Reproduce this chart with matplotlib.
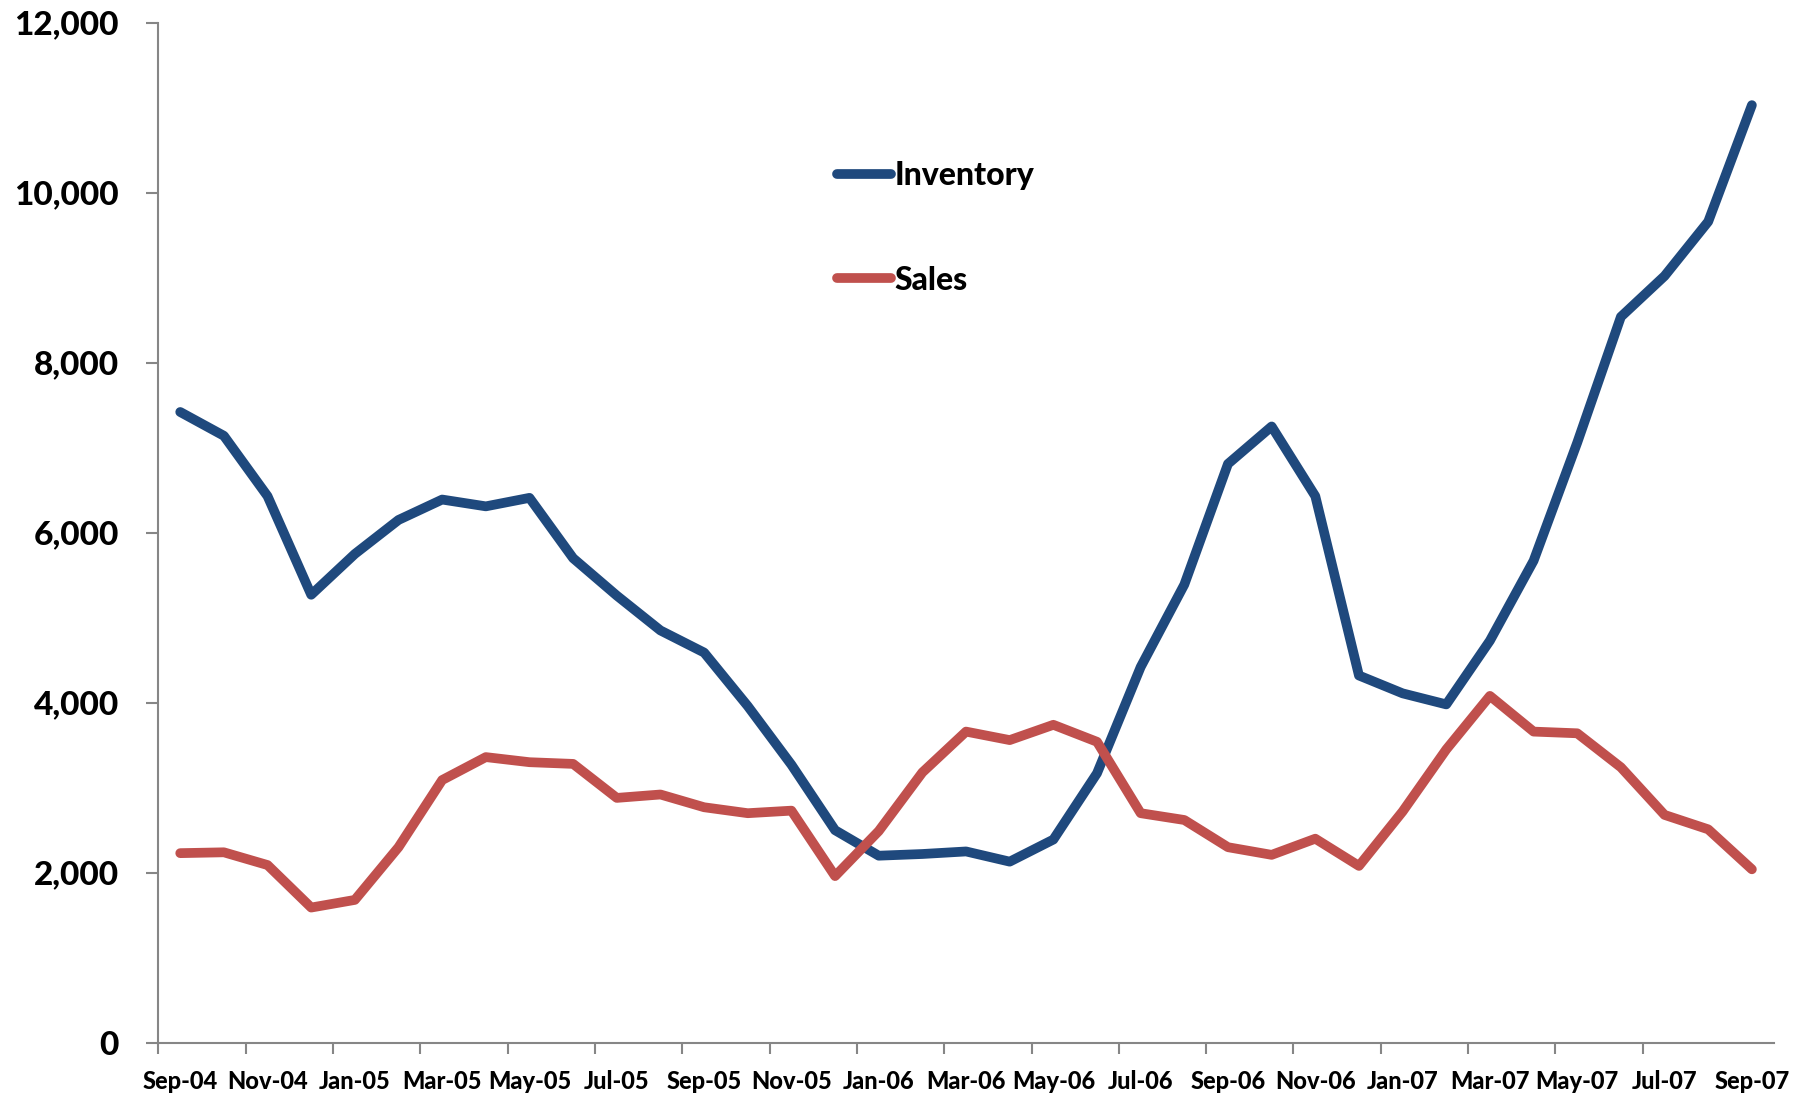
import matplotlib
matplotlib.use("Agg")
import matplotlib.pyplot as plt
from matplotlib.ticker import FuncFormatter, FixedLocator

months = ["Sep-04", "Oct-04", "Nov-04", "Dec-04", "Jan-05", "Feb-05", "Mar-05", "Apr-05",
          "May-05", "Jun-05", "Jul-05", "Aug-05", "Sep-05", "Oct-05", "Nov-05", "Dec-05",
          "Jan-06", "Feb-06", "Mar-06", "Apr-06", "May-06", "Jun-06", "Jul-06", "Aug-06",
          "Sep-06", "Oct-06", "Nov-06", "Dec-06", "Jan-07", "Feb-07", "Mar-07", "Apr-07",
          "May-07", "Jun-07", "Jul-07", "Aug-07", "Sep-07"]

inventory = [7420, 7140, 6430, 5270, 5750, 6150, 6390, 6310, 6410, 5700, 5260, 4850,
             4590, 3960, 3270, 2500, 2200, 2220, 2250, 2130, 2390, 3170, 4420, 5390,
             6810, 7250, 6430, 4320, 4110, 3980, 4730, 5670, 7060, 8540, 9020, 9660, 11030]

sales = [2230, 2240, 2090, 1590, 1680, 2300, 3090, 3360, 3300, 3280, 2880, 2920,
         2770, 2700, 2730, 1960, 2490, 3180, 3660, 3560, 3740, 3540, 2700, 2620,
         2300, 2210, 2400, 2080, 2720, 3450, 4080, 3660, 3640, 3240, 2680, 2510, 2040]

y_ticks = [0, 2000, 4000, 6000, 8000, 10000, 12000]

font = ["Lato", "DejaVu Sans"]
plt.rcParams['font.family'] = font
plt.rcParams['font.weight'] = 'black'

W, H = 1811, 1101
fig = plt.figure(figsize=(W / 100, H / 100), dpi=100)
ax = fig.add_axes([158.4 / W, 1 - 1042.7 / H, (1773.7 - 158.4) / W, (1042.7 - 22.7) / H])

x = list(range(len(months)))
blue = "#1F497D"
red = "#C0504D"
ax.plot(x, inventory, color=blue, lw=7, solid_capstyle='round', solid_joinstyle='round', label="Inventory")
ax.plot(x, sales, color=red, lw=7, solid_capstyle='round', solid_joinstyle='round', label="Sales")

ax.set_xlim(-0.5, len(months) - 0.5)
ax.set_ylim(0, 12000)

for s in ["top", "right"]:
    ax.spines[s].set_visible(False)
for s in ["left", "bottom"]:
    ax.spines[s].set_color("#868686")
    ax.spines[s].set_linewidth(1.5)

ax.set_yticks(y_ticks)
ax.yaxis.set_major_formatter(FuncFormatter(lambda v, p: f"{int(v):,}"))
ax.tick_params(axis='y', direction='out', length=8.5, width=1.5, color="#868686",
               labelsize=24, pad=20)

# category boundary ticks every 2 months, labels at every other month
ax.xaxis.set_major_locator(FixedLocator([i - 0.5 for i in range(0, len(months) - 1, 2)]))
ax.xaxis.set_minor_locator(FixedLocator(list(range(0, len(months), 2))))
ax.set_xticklabels([], minor=False)
ax.set_xticklabels([months[i] for i in range(0, len(months), 2)], minor=True)
ax.tick_params(axis='x', which='major', direction='out', length=8, width=1.5, color="#868686")
ax.tick_params(axis='x', which='minor', length=0, labelsize=17, pad=20)

for lab in ax.get_xticklabels(minor=True) + ax.get_yticklabels():
    lab.set_fontweight('black')

leg = ax.legend(loc='center left', bbox_to_anchor=(821 / W, 1 - 228 / H),
                bbox_transform=fig.transFigure, frameon=False, fontsize=23,
                handlelength=1.7, handletextpad=0.1, labelspacing=2.35, borderpad=0)
for t in leg.get_texts():
    t.set_fontweight('black')

fig.savefig("out.png", dpi=100)
